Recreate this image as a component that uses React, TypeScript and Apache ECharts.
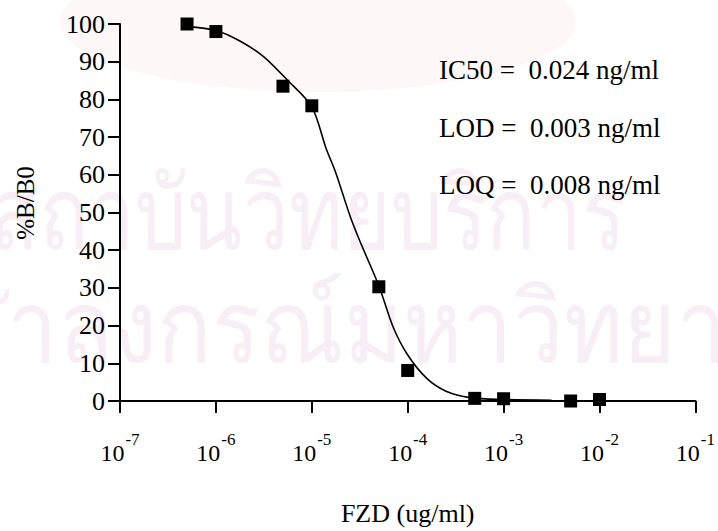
import React, { useEffect, useRef } from "react";
import * as echarts from "echarts";

// Measured points (x in ug/ml, y in %B/B0)
const pointX = [5e-7, 1e-6, 5e-6, 1e-5, 5e-5, 1e-4, 5e-4, 1e-3, 5e-3, 1e-2];
const pointY = [100, 98, 83.5, 78.3, 30.3, 8.1, 0.7, 0.6, 0, 0.4];

// Fitted curve
const curveX = [5e-7, 1e-6, 1.78e-6, 3.16e-6, 5.62e-6, 1e-5, 1.41e-5, 1.78e-5, 2.51e-5, 3.16e-5, 5.01e-5, 7.08e-5, 1e-4, 1.58e-4, 2.51e-4, 4.47e-4, 1e-3, 3.16e-3];
const curveY = [99.3, 98.3, 95.5, 91.3, 85.0, 78.0, 67, 60.5, 49, 42.5, 30.5, 19.5, 12.2, 6.0, 2.6, 0.9, 0.4, 0.2];

const annotations = ["IC50 =  0.024 ng/ml", "LOD =  0.003 ng/ml", "LOQ =  0.008 ng/ml"];
const watermark = ["สถาบันวิทยบริการ", "จุฬาลงกรณ์มหาวิทยาลัย"];

const SERIF = "'Liberation Serif', 'Times New Roman', serif";
const WM_FONT = "'Noto Sans', 'DejaVu Sans', sans-serif";

export default function App() {
  const ref = useRef<HTMLDivElement>(null);
  useEffect(() => {
    if (!ref.current) return;
    const chart = echarts.init(ref.current, null, { renderer: "svg" });
    const option: any = {
      animation: false,
      backgroundColor: "#ffffff",
      grid: { left: 120, right: 22, top: 24, bottom: 124 },
      xAxis: {
        type: "log",
        logBase: 10,
        min: 1e-7,
        max: 1e-1,
        splitNumber: 6,
        name: "FZD (ug/ml)",
        nameLocation: "middle",
        nameGap: 99,
        nameTextStyle: { fontFamily: SERIF, fontSize: 26, color: "#000" },
        axisLine: { lineStyle: { color: "#000", width: 2 } },
        axisTick: { show: true, length: 12, lineStyle: { color: "#000", width: 2 } },
        minorTick: { show: false },
        splitLine: { show: false },
        axisLabel: {
          margin: 30,
          color: "#000",
          formatter: (v: number) => `{b|10}{s|${Math.round(Math.log10(v))}}`,
          rich: {
            b: { fontFamily: SERIF, fontSize: 24, lineHeight: 34, color: "#000", verticalAlign: "bottom" },
            s: { fontFamily: SERIF, fontSize: 17, lineHeight: 17, color: "#000", padding: [0, 0, 0, 1], verticalAlign: "top" },
          },
        },
      },
      yAxis: {
        type: "value",
        min: 0,
        max: 100,
        interval: 10,
        axisLine: { show: true, lineStyle: { color: "#000", width: 2 } },
        axisTick: { show: true, length: 12, lineStyle: { color: "#000", width: 2 } },
        splitLine: { show: false },
        axisLabel: { margin: 15, color: "#000", fontFamily: SERIF, fontSize: 26 },
      },
      graphic: [
        {
          type: "ellipse",
          z: -20,
          shape: { cx: 318, cy: 22, rx: 258, ry: 70 },
          style: { fill: "#fdf8f7" },
        },
        {
          type: "text",
          z: -10,
          x: -11,
          y: 159,
          scaleX: 0.89,
          scaleY: 1.1,
          style: { text: watermark[0], fontSize: 92, fill: "#f8eef5", fontFamily: WM_FONT, verticalAlign: "top" },
        },
        {
          type: "text",
          z: -10,
          x: -108,
          y: 272,
          scaleX: 0.98,
          scaleY: 1.1,
          style: { text: watermark[1], fontSize: 92, fill: "#f8eef5", fontFamily: WM_FONT, verticalAlign: "top" },
        },
        {
          type: "text",
          rotation: Math.PI / 2,
          x: 25,
          y: 203,
          style: { text: "%B/B0", fontFamily: SERIF, fontSize: 25, fill: "#000", align: "center", verticalAlign: "middle" },
        },
        ...annotations.map((t, i) => ({
          type: "text",
          x: 439,
          y: [70, 128, 185][i],
          style: { text: t, fontFamily: SERIF, fontSize: 27, fill: "#000", align: "left", verticalAlign: "middle" },
        })),
      ],
      series: [
        {
          type: "line",
          data: curveX.map((x, i) => [x, curveY[i]]),
          smooth: 0.3,
          showSymbol: false,
          symbol: "none",
          lineStyle: { color: "#000", width: 1.6 },
          z: 2,
        },
        {
          type: "scatter",
          data: pointX.map((x, i) => [x, pointY[i]]),
          symbol: "rect",
          symbolSize: 13,
          itemStyle: { color: "#000", opacity: 1 },
          z: 3,
        },
      ],
    };
    chart.setOption(option);
    return () => chart.dispose();
  }, []);
  return <div ref={ref} style={{ width: 718, height: 531, position: "absolute", left: 0, top: 0 }} />;
}
